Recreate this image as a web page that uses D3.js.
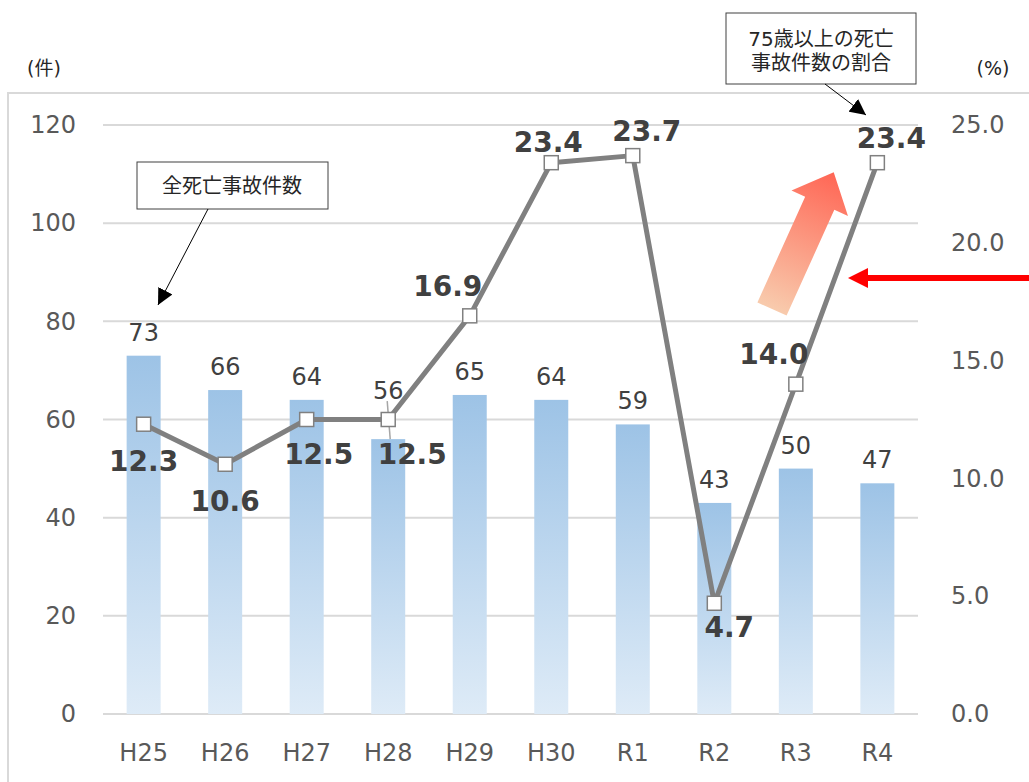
<!DOCTYPE html>
<html>
<head>
<meta charset="utf-8">
<script src="https://cdn.jsdelivr.net/npm/d3@7"></script>
<style>
  body { margin: 0; background: #fff; }
  text { font-family: "DejaVu Sans", "Noto Sans CJK JP", sans-serif; }
</style>
</head>
<body>
<svg width="1029" height="782"></svg>
<script>
// data
var years = ["H25", "H26", "H27", "H28", "H29", "H30", "R1", "R2", "R3", "R4"];
var deaths = [73, 66, 64, 56, 65, 64, 59, 43, 50, 47];
var elderRate = [12.3, 10.6, 12.5, 12.5, 16.9, 23.4, 23.7, 4.7, 14.0, 23.4];
var leftTicks = [0, 20, 40, 60, 80, 100, 120];
var rightTicks = [0, 5, 10, 15, 20, 25];
// where each rate label sits next to its marker
var ratePlace = ["below", "below", "belowR", "belowRR", "aboveL", "above", "aboveR", "belowS", "aboveL", "aboveR"];

var svg = d3.select("svg"),
    width = +svg.attr("width"),
    height = +svg.attr("height");

var pLeft = 103, pRight = 918, pTop = 125, pBottom = 714;

var x = d3.scaleBand().domain(years).range([pLeft, pRight]).paddingInner(0.583).paddingOuter(0.29);
var yL = d3.scaleLinear().domain([0, 120]).range([pBottom, pTop]);
var yR = d3.scaleLinear().domain([0, 25]).range([pBottom, pTop]);

var defs = svg.append("defs");
var bg = defs.append("linearGradient").attr("id", "barGrad")
    .attr("x1", 0).attr("y1", 0).attr("x2", 0).attr("y2", 1);
bg.append("stop").attr("offset", "0%").attr("stop-color", "#9dc3e6");
bg.append("stop").attr("offset", "100%").attr("stop-color", "#deebf7");

var ag = defs.append("linearGradient").attr("id", "upGrad")
    .attr("x1", 0).attr("y1", 1).attr("x2", 0).attr("y2", 0);
ag.append("stop").attr("offset", "0%").attr("stop-color", "#f8cbad");
ag.append("stop").attr("offset", "100%").attr("stop-color", "#ff6655");

defs.append("marker").attr("id", "blackHead")
    .attr("viewBox", "0 0 10 10").attr("refX", 10).attr("refY", 5)
    .attr("markerWidth", 16).attr("markerHeight", 16).attr("markerUnits", "userSpaceOnUse")
    .attr("orient", "auto")
  .append("path").attr("d", "M0,0L10,5L0,10Z").attr("fill", "#000");

// chart frame
svg.append("rect").attr("x", 8).attr("y", 93).attr("width", 1040).attr("height", 720)
    .attr("fill", "none").attr("stroke", "#d9d9d9").attr("stroke-width", 2);

// gridlines
svg.append("g").selectAll("line").data(leftTicks).enter().append("line")
    .attr("x1", pLeft).attr("x2", pRight)
    .attr("y1", function(d) { return yL(d); }).attr("y2", function(d) { return yL(d); })
    .attr("stroke", "#d9d9d9").attr("stroke-width", 2);

// axes
var axL = svg.append("g").attr("transform", "translate(" + pLeft + ",0)")
    .call(d3.axisLeft(yL).tickValues(leftTicks).tickSize(0).tickPadding(27));
var axR = svg.append("g").attr("transform", "translate(" + pRight + ",0)")
    .call(d3.axisRight(yR).tickValues(rightTicks).tickSize(0).tickPadding(33).tickFormat(d3.format(".1f")));
var axB = svg.append("g").attr("transform", "translate(0," + pBottom + ")")
    .call(d3.axisBottom(x).tickSize(0).tickPadding(30));
[axL, axR, axB].forEach(function(a) {
  a.select(".domain").remove();
  a.selectAll("text").attr("fill", "#595959").style("font-size", "24px")
      .style("font-family", "'DejaVu Sans', sans-serif");
});

// bars
svg.append("g").selectAll("rect").data(deaths).enter().append("rect")
    .attr("x", function(d, i) { return x(years[i]); })
    .attr("width", x.bandwidth())
    .attr("y", function(d) { return yL(d); })
    .attr("height", function(d) { return pBottom - yL(d); })
    .attr("fill", "url(#barGrad)");

// H28 label is lifted above the line, with a leader
var lift = function(i) { return years[i] === "H28" ? 40 : 15; };
var bcx = function(i) { return x(years[i]) + x.bandwidth() / 2; };
svg.append("line")
    .attr("x1", bcx(3) - 1).attr("y1", yL(deaths[3]) - 38)
    .attr("x2", bcx(3) + 2).attr("y2", yL(deaths[3]))
    .attr("stroke", "#a6a6a6").attr("stroke-width", 1.5);

svg.append("g").selectAll("text").data(deaths).enter().append("text")
    .attr("x", function(d, i) { return bcx(i); })
    .attr("y", function(d, i) { return yL(d) - lift(i); })
    .attr("text-anchor", "middle")
    .attr("fill", "#404040").style("font-size", "24px")
    .text(function(d) { return d; });

// line
var line = d3.line()
    .x(function(d, i) { return bcx(i); })
    .y(function(d) { return yR(d); });

svg.append("path").datum(elderRate)
    .attr("d", line).attr("fill", "none")
    .attr("stroke", "#808080").attr("stroke-width", 5).attr("stroke-linejoin", "round");

svg.append("g").selectAll("rect").data(elderRate).enter().append("rect")
    .attr("x", function(d, i) { return bcx(i) - 7; })
    .attr("y", function(d) { return yR(d) - 7; })
    .attr("width", 14).attr("height", 14)
    .attr("fill", "#fff").attr("stroke", "#808080").attr("stroke-width", 1.5);

var offs = {
  below: [0, 47], belowR: [12, 44], belowRR: [24, 44], belowS: [15, 34],
  above: [-3, -11], aboveL: [-22, -20], aboveR: [14, -15]
};
svg.append("g").selectAll("text").data(elderRate).enter().append("text")
    .attr("x", function(d, i) { return bcx(i) + offs[ratePlace[i]][0]; })
    .attr("y", function(d, i) { return yR(d) + offs[ratePlace[i]][1]; })
    .attr("text-anchor", "middle")
    .attr("fill", "#404040").style("font-size", "28px").style("font-weight", "bold")
    .text(function(d) { return d.toFixed(1); });

// unit labels
svg.append("text").attr("x", 44).attr("y", 75).attr("text-anchor", "middle")
    .attr("fill", "#262626").style("font-size", "19px").text("(件)");
svg.append("text").attr("x", 993).attr("y", 75).attr("text-anchor", "middle")
    .attr("fill", "#262626").style("font-size", "19px").text("(%)");

// callouts
svg.append("rect").attr("x", 137).attr("y", 162).attr("width", 191).attr("height", 47)
    .attr("fill", "#fff").attr("stroke", "#404040").attr("stroke-width", 1);
svg.append("text").attr("x", 232).attr("y", 193).attr("text-anchor", "middle")
    .attr("fill", "#262626").style("font-size", "20px").text("全死亡事故件数");
svg.append("line").attr("x1", 208).attr("y1", 209).attr("x2", 158).attr("y2", 305)
    .attr("stroke", "#000").attr("stroke-width", 1).attr("marker-end", "url(#blackHead)");

svg.append("rect").attr("x", 726).attr("y", 13).attr("width", 190).attr("height", 71)
    .attr("fill", "#fff").attr("stroke", "#404040").attr("stroke-width", 1);
svg.append("text").attr("x", 821).attr("y", 46).attr("text-anchor", "middle")
    .attr("fill", "#262626").style("font-size", "20px").text("75歳以上の死亡");
svg.append("text").attr("x", 821).attr("y", 70).attr("text-anchor", "middle")
    .attr("fill", "#262626").style("font-size", "20px").text("事故件数の割合");
svg.append("line").attr("x1", 825).attr("y1", 84).attr("x2", 866).attr("y2", 115)
    .attr("stroke", "#000").attr("stroke-width", 1).attr("marker-end", "url(#blackHead)");

// rising block arrow
svg.append("path")
    .attr("transform", "translate(772,309) rotate(24.3)")
    .attr("d", "M-16,0L16,0L16,-116L31,-116L0,-150L-31,-116L-16,-116Z")
    .attr("fill", "url(#upGrad)");

// red pointer arrow
svg.append("line").attr("x1", 1035).attr("y1", 278).attr("x2", 865).attr("y2", 278)
    .attr("stroke", "#ff0000").attr("stroke-width", 6);
svg.append("path").attr("d", "M848,278L868,268L868,288Z").attr("fill", "#ff0000");
</script>
</body>
</html>
